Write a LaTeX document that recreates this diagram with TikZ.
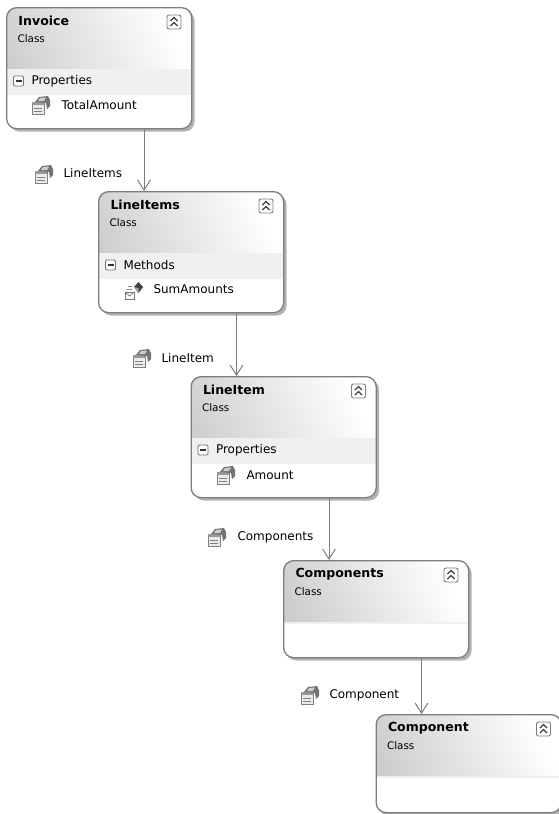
\documentclass[tikz,border=0pt]{standalone}
\usepackage{fontspec}
\setmainfont{DejaVu Sans}
\usetikzlibrary{arrows.meta,shadows}

\definecolor{edgegray}{RGB}{125,125,125}
\definecolor{headgray}{RGB}{205,205,205}
\definecolor{bandgray}{RGB}{240,240,240}

\tikzset{every picture/.style={line width=0.75pt}}
\tikzset{
	classbox/.style={draw=edgegray,fill=white,line width=1pt,rounded corners=7.5pt,anchor=north west,inner sep=0pt,
		minimum width=138.75pt,
		drop shadow={shadow xshift=2.2pt,shadow yshift=-2.2pt,fill=black!30,opacity=1},
		path picture={
			\shade[sharp corners,left color=headgray,right color=white,shading angle=115] (path picture bounding box.north west) rectangle ([yshift=-45.75pt]path picture bounding box.north east);
			\fill[sharp corners,bandgray] ([yshift=-45.75pt]path picture bounding box.north west) rectangle ([yshift=-45.75pt-#1]path picture bounding box.north east);
		}},
	classtitle/.style={anchor=west,inner sep=0pt,font=\fontsize{9.4}{11}\selectfont\bfseries},
	classtext/.style={anchor=west,inner sep=0pt,font=\fontsize{7.8}{9}\selectfont},
	itemtext/.style={anchor=west,inner sep=0pt,font=\fontsize{9}{11}\selectfont},
	conn/.style={draw=edgegray,line width=0.75pt,-{Straight Barb[length=7.5pt,width=9.5pt]}},
}

% class box: name, x, y, height (in pt), band (in pt), title
\newcommand{\classnode}[6]{
	\node[classbox=#5,minimum height=#4] (#1) at (#2,#3) {};
	\node[classtitle] (#1title) at ([shift={(12,14)}]#1.north west) {#6};
	\node[classtext] (#1kind) at ([shift={(11,32)}]#1.north west) {Class};
	% collapse button
	\begin{scope}[shift={([shift={(168,15)}]#1.north west)}]
		\draw[edgegray,fill=white,rounded corners=1.5pt,line width=0.7pt] (-7,-7) rectangle (7,7);
		\draw[black!75,line width=0.9pt] (-3.5,-1) -- (0,-4.5) -- (3.5,-1) (-3.5,4) -- (0,0.5) -- (3.5,4);
	\end{scope}
}
% compartment heading: box name, heading
\newcommand{\sectionrow}[2]{
	\begin{scope}[shift={([shift={(12.5,74)}]#1.north west)}]
		\draw[black!55,fill=white,line width=0.7pt,rounded corners=1pt] (-5,-5) rectangle (5,5);
		\draw[black!80,line width=0.8pt] (-3,0) -- (3,0);
	\end{scope}
	\node[itemtext] (#1head) at ([shift={(25,74)}]#1.north west) {#2};
}
% property icon: coordinate
\newcommand{\propicon}[1]{
	\begin{scope}[shift={(#1)}]
		\draw[black!50,fill=black!8,line width=0.5pt] (-9,-3) rectangle (3,9);
		\fill[black!40] (-9,-3) rectangle (3,-0.5);
		\draw[black!50,line width=0.6pt] (-7,3) -- (1,3) (-7,6) -- (1,6);
		\fill[black!55] (-6,-3) -- (-2,-8) -- (7,-9) -- (9,-5) -- (9,1) -- (6,4) -- (5,-2) -- cycle;
		\fill[black!20] (-3,-4) -- (-1,-7) -- (5,-7.5) -- (3,-4) -- cycle;
	\end{scope}
}
% method icon: coordinate
\newcommand{\methodicon}[1]{
	\begin{scope}[shift={(#1)}]
		\draw[black!55,fill=white,line width=0.5pt] (-10,2) rectangle (-1,9);
		\draw[black!55,line width=0.5pt] (-10,2) -- (-5.5,6) -- (-1,2);
		\draw[black!45,line width=0.6pt] (-8,-1) -- (-3,-1) (-7,-4) -- (-3,-4);
		\fill[black!75] (-1,-3) -- (3.5,-8) -- (8,-3) -- (3.5,3) -- cycle;
		\fill[black!35] (-1,-3) -- (3.5,-2) -- (3.5,3) -- cycle;
	\end{scope}
}

\begin{document}
\begin{tikzpicture}[x=0.75pt,y=0.75pt,yscale=-1,xscale=1]
	\useasboundingbox (0,0) rectangle (559,814);

	% Class boxes
	\classnode{invoice}{6}{7}{90.75pt}{19.5pt}{Invoice}
	\classnode{lineitems}{98}{191}{90.75pt}{19.5pt}{LineItems}
	\classnode{lineitem}{190.5}{376}{90.75pt}{19.5pt}{LineItem}
	\classnode{components}{283}{560}{72.75pt}{1.5pt}{Components}
	\classnode{component}{375.5}{714}{73.5pt}{1.5pt}{Component}

	% Compartments
	\sectionrow{invoice}{Properties}
	\propicon{41,105}
	\node[itemtext] (totalamount) at (61,105) {TotalAmount};
	\sectionrow{lineitems}{Methods}
	\methodicon{135,290}
	\node[itemtext] (sumamounts) at (153,289) {SumAmounts};
	\sectionrow{lineitem}{Properties}
	\propicon{226,475}
	\node[itemtext] (amount) at (246,475) {Amount};

	% Connectors
	\coordinate (invoiceline) at (144,150);
	\coordinate (lineitemsline) at (236.5,340);
	\coordinate (lineitemline) at (329,520);
	\coordinate (componentsline) at (421.5,680);
	\draw[conn] (invoiceline |- invoice.south) -- (invoiceline |- lineitems.north);
	\draw[conn] (lineitemsline |- lineitems.south) -- (lineitemsline |- lineitem.north);
	\draw[conn] (lineitemline |- lineitem.south) -- (lineitemline |- components.north);
	\draw[conn] (componentsline |- components.south) -- (componentsline |- component.north);

	% Connector labels
	\propicon{44,174}
	\node[itemtext] (lineitemslabel) at (63,173) {LineItems};
	\propicon{142,358}
	\node[itemtext] (lineitemlabel) at (161,358) {LineItem};
	\propicon{217,537}
	\node[itemtext] (componentslabel) at (237,537) {Components};
	\propicon{310,695}
	\node[itemtext] (componentlabel) at (329,695) {Component};
\end{tikzpicture}
\end{document}
